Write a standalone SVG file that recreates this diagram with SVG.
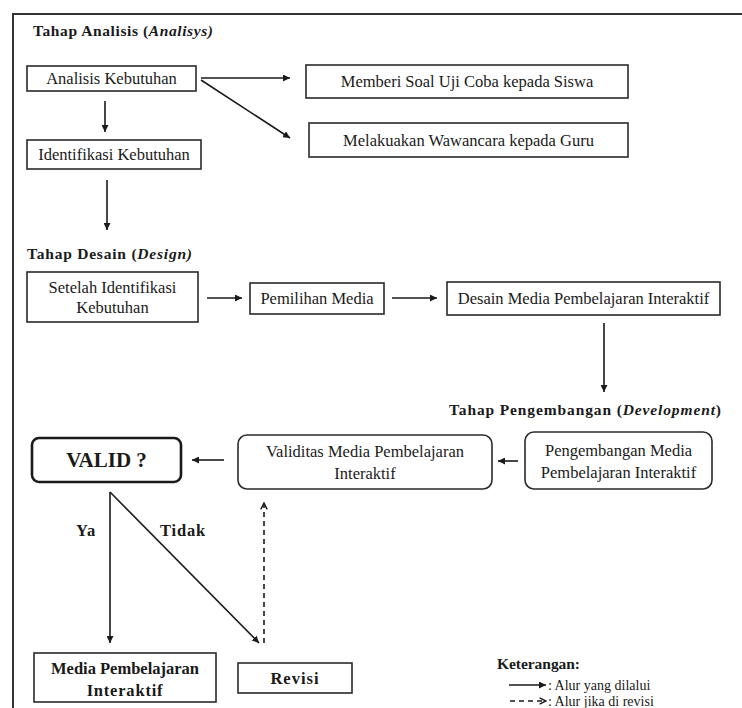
<svg xmlns="http://www.w3.org/2000/svg" width="742" height="708" viewBox="0 0 742 708">
<style>
.t{font-family:"Liberation Serif","Times New Roman",serif;font-size:16.5px;fill:#1a1a1a;text-anchor:middle;dominant-baseline:central}
.b{font-weight:bold}
.h{font-family:"Liberation Serif","Times New Roman",serif;font-size:15.5px;font-weight:bold;fill:#1a1a1a;dominant-baseline:central}
.box{fill:#fff;stroke:#2a2a2a;stroke-width:1.6}
.c{stroke:#1a1a1a;stroke-width:1.6;fill:none}
.d{stroke:#1a1a1a;stroke-width:1.6;fill:none;stroke-dasharray:5 4}
.l{font-family:"Liberation Serif","Times New Roman",serif;font-size:14px;fill:#1a1a1a;dominant-baseline:central}
</style>
<defs>
<marker id="ah" viewBox="0 0 10 10" refX="10" refY="5" markerWidth="7" markerHeight="7" markerUnits="userSpaceOnUse" orient="auto"><path d="M0,0 L10,5 L0,10 z" fill="#1a1a1a"/></marker>
<marker id="ao" viewBox="0 0 10 10" refX="9" refY="5" markerWidth="8" markerHeight="8" markerUnits="userSpaceOnUse" orient="auto"><path d="M1,1 L9,5 L1,9" fill="none" stroke="#1a1a1a" stroke-width="1.8"/></marker>
</defs>
<path d="M13,708 V14 H742" fill="none" stroke="#333" stroke-width="2"/>

<g id="headings">
<text class="h" x="33" y="30" textLength="180">Tahap Analisis (<tspan font-style="italic">Analisys)</tspan></text>
<text class="h" x="27" y="253" textLength="165">Tahap Desain (<tspan font-style="italic">Design)</tspan></text>
<text class="h" x="449" y="409" textLength="272">Tahap Pengembangan (<tspan font-style="italic">Development</tspan>)</text>
</g>

<g id="n-analisis"><rect class="box" x="27" y="66" width="169" height="25"/><text class="t" x="111.5" y="78.5">Analisis Kebutuhan</text></g>
<g id="n-memberi"><rect class="box" x="306" y="65" width="322" height="33"/><text class="t" x="467" y="81.5">Memberi Soal Uji Coba kepada Siswa</text></g>
<g id="n-wawancara"><rect class="box" x="309" y="123" width="319" height="34"/><text class="t" x="468.5" y="140">Melakuakan Wawancara  kepada Guru</text></g>
<g id="n-identifikasi"><rect class="box" x="27" y="140" width="174" height="29"/><text class="t" x="114" y="154.5">Identifikasi Kebutuhan</text></g>

<g id="n-setelah"><rect class="box" x="27" y="272" width="171" height="50"/><text class="t" x="112.5" y="287">Setelah Identifikasi</text><text class="t" x="112.5" y="307">Kebutuhan</text></g>
<g id="n-pemilihan"><rect class="box" x="250" y="283" width="134" height="31"/><text class="t" x="317" y="298.5">Pemilihan Media</text></g>
<g id="n-desain"><rect class="box" x="447" y="282" width="273" height="33"/><text class="t" x="583.5" y="298.5">Desain Media Pembelajaran Interaktif</text></g>

<g id="n-valid"><rect x="32" y="438" width="149" height="44" rx="7" fill="#fff" stroke="#1a1a1a" stroke-width="2.6"/><text class="t b" x="106.5" y="460" style="font-size:21px">VALID ?</text></g>
<g id="n-validitas"><rect class="box" x="238" y="435" width="254" height="54" rx="9"/><text class="t" x="365" y="451">Validitas Media Pembelajaran</text><text class="t" x="365" y="473">Interaktif</text></g>
<g id="n-pengembangan"><rect class="box" x="525" y="432" width="187" height="57" rx="9"/><text class="t" x="618.5" y="450">Pengembangan Media</text><text class="t" x="618.5" y="472">Pembelajaran Interaktif</text></g>

<g id="n-media"><rect class="box" x="34" y="653" width="182" height="49"/><text class="t b" x="125" y="668">Media Pembelajaran</text><text class="t b" x="125" y="690" letter-spacing="0.8">Interaktif</text></g>
<g id="n-revisi"><rect class="box" x="238" y="663" width="114" height="30"/><text class="t b" x="295" y="678" letter-spacing="1">Revisi</text></g>

<g id="connectors">
<line class="c" x1="201" y1="78" x2="290" y2="78" marker-end="url(#ah)"/>
<line class="c" x1="201" y1="80" x2="290" y2="138" marker-end="url(#ah)"/>
<line class="c" x1="105" y1="101" x2="105" y2="132" marker-end="url(#ah)"/>
<line class="c" x1="107" y1="180" x2="107" y2="230" marker-end="url(#ah)"/>
<line class="c" x1="207" y1="298" x2="242" y2="298" marker-end="url(#ah)"/>
<line class="c" x1="392" y1="298" x2="437" y2="298" marker-end="url(#ah)"/>
<line class="c" x1="604" y1="323" x2="604" y2="392" marker-end="url(#ah)"/>
<line class="c" x1="518" y1="461" x2="498" y2="461" marker-end="url(#ah)"/>
<line class="c" x1="224" y1="460" x2="192" y2="460" marker-end="url(#ah)"/>
<line class="c" x1="110" y1="492" x2="110" y2="643" marker-end="url(#ah)"/>
<line class="c" x1="110" y1="492" x2="259" y2="643" marker-end="url(#ah)"/>
<line class="d" x1="264" y1="643" x2="264" y2="503" marker-end="url(#ao)"/>
</g>

<g id="labels">
<text class="t b" x="86" y="530" letter-spacing="0.8">Ya</text>
<text class="t b" x="183" y="530" letter-spacing="0.8">Tidak</text>
</g>

<g id="legend">
<text class="h" x="497" y="663" textLength="83">Keterangan:</text>
<line class="c" x1="509" y1="685" x2="546" y2="685" marker-end="url(#ah)"/>
<text class="l" x="548" y="685">: Alur yang dilalui</text>
<line class="d" x1="510" y1="701" x2="546" y2="701" stroke-dasharray="4 3" marker-end="url(#ao)"/>
<text class="l" x="548" y="701">: Alur jika di revisi</text>
</g>
</svg>
